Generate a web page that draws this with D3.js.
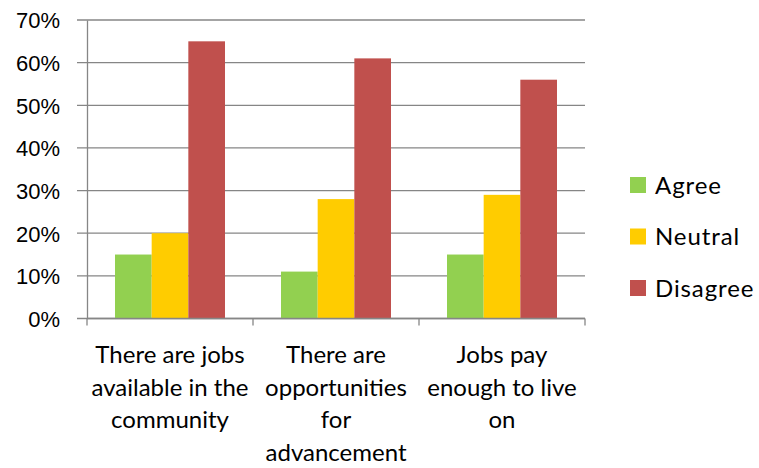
<!DOCTYPE html>
<html>
<head>
<meta charset="utf-8">
<script src="https://cdn.jsdelivr.net/npm/d3@7"></script>
<style>
  html, body { margin: 0; padding: 0; background: #fff; }
  svg { display: block; font-family: Lato, "Open Sans", sans-serif; }
</style>
</head>
<body>
<svg id="chart" width="759" height="468"></svg>
<script>
// Survey responses about local employment (share of respondents)
const categories = [
  ["There are jobs", "available in the", "community"],
  ["There are", "opportunities", "for", "advancement"],
  ["Jobs pay", "enough to live", "on"]
];
const seriesNames = ["Agree", "Neutral", "Disagree"];
const agree    = [0.15, 0.11, 0.15];
const neutral  = [0.20, 0.28, 0.29];
const disagree = [0.65, 0.61, 0.56];
const yTicks = [0, 0.1, 0.2, 0.3, 0.4, 0.5, 0.6, 0.7];
const colors = ["#92D050", "#FFCC00", "#C0504D"];

const series = [agree, neutral, disagree];
const svg = d3.select("#chart");
const plot = { left: 87, right: 585, top: 20, bottom: 318.5 };

const catIdx = d3.range(categories.length);
const x = d3.scaleBand().domain(catIdx).range([plot.left, plot.right]).paddingInner(0).paddingOuter(0);
const inner = d3.scaleBand().domain(seriesNames)
  .range([28, x.bandwidth() - 28]).padding(0);
const y = d3.scaleLinear().domain([0, 0.7]).range([plot.bottom, plot.top]);

const gridColor = "#868686";

// horizontal gridlines (extending left as tick marks)
svg.append("g").selectAll("line").data(yTicks).join("line")
  .attr("x1", plot.left - 10).attr("x2", plot.right)
  .attr("y1", d => y(d)).attr("y2", d => y(d))
  .attr("stroke", gridColor).attr("stroke-width", 1.3);

// y axis
const yAxis = d3.axisLeft(y).tickValues(yTicks).tickFormat(d3.format(".0%")).tickSize(0).tickPadding(27);
const gy = svg.append("g").attr("transform", `translate(${plot.left},0)`).call(yAxis);
gy.select(".domain").attr("stroke", gridColor).attr("stroke-width", 1.3);
gy.selectAll("text").attr("font-size", 22).attr("fill", "#000").attr("dy", "0.36em");

// bars
const groups = svg.append("g").selectAll("g").data(catIdx).join("g")
  .attr("transform", i => `translate(${x(i)},0)`);
groups.selectAll("rect")
  .data(i => seriesNames.map((s, k) => ({ s, k, v: series[k][i] })))
  .join("rect")
  .attr("x", d => inner(d.s))
  .attr("width", inner.bandwidth())
  .attr("y", d => y(d.v))
  .attr("height", d => y(0) - y(d.v))
  .attr("fill", d => colors[d.k]);

// x axis with category tick marks at band boundaries
const gx = svg.append("g");
gx.append("line").attr("x1", plot.left).attr("x2", plot.right)
  .attr("y1", y(0)).attr("y2", y(0)).attr("stroke", gridColor).attr("stroke-width", 1.3);
const bounds = catIdx.map(i => x(i)).concat([plot.right]);
gx.selectAll("line.tick").data(bounds).join("line").attr("class", "tick")
  .attr("x1", d => d).attr("x2", d => d)
  .attr("y1", y(0)).attr("y2", y(0) + 7)
  .attr("stroke", gridColor).attr("stroke-width", 1.3);

// category labels
const labels = svg.append("g").selectAll("text").data(catIdx).join("text")
  .attr("x", i => x(i) + x.bandwidth() / 2)
  .attr("y", 363)
  .attr("text-anchor", "middle")
  .attr("font-size", 24)
  .attr("fill", "#000");
labels.selectAll("tspan").data(i => categories[i]).join("tspan")
  .attr("x", function () { return d3.select(this.parentNode).attr("x"); })
  .attr("dy", (d, j) => j === 0 ? 0 : 32.5)
  .text(d => d);

// legend
const legend = svg.append("g").selectAll("g").data(seriesNames).join("g")
  .attr("transform", (d, k) => `translate(630,${185 + k * 51.5})`);
legend.append("rect").attr("x", 0).attr("y", -8).attr("width", 16).attr("height", 16)
  .attr("fill", (d, k) => colors[k]);
legend.append("text").attr("x", 25).attr("y", 0).attr("dy", "0.36em")
  .attr("font-size", 24).attr("letter-spacing", 0.9).attr("fill", "#000").text(d => d);
</script>
</body>
</html>
